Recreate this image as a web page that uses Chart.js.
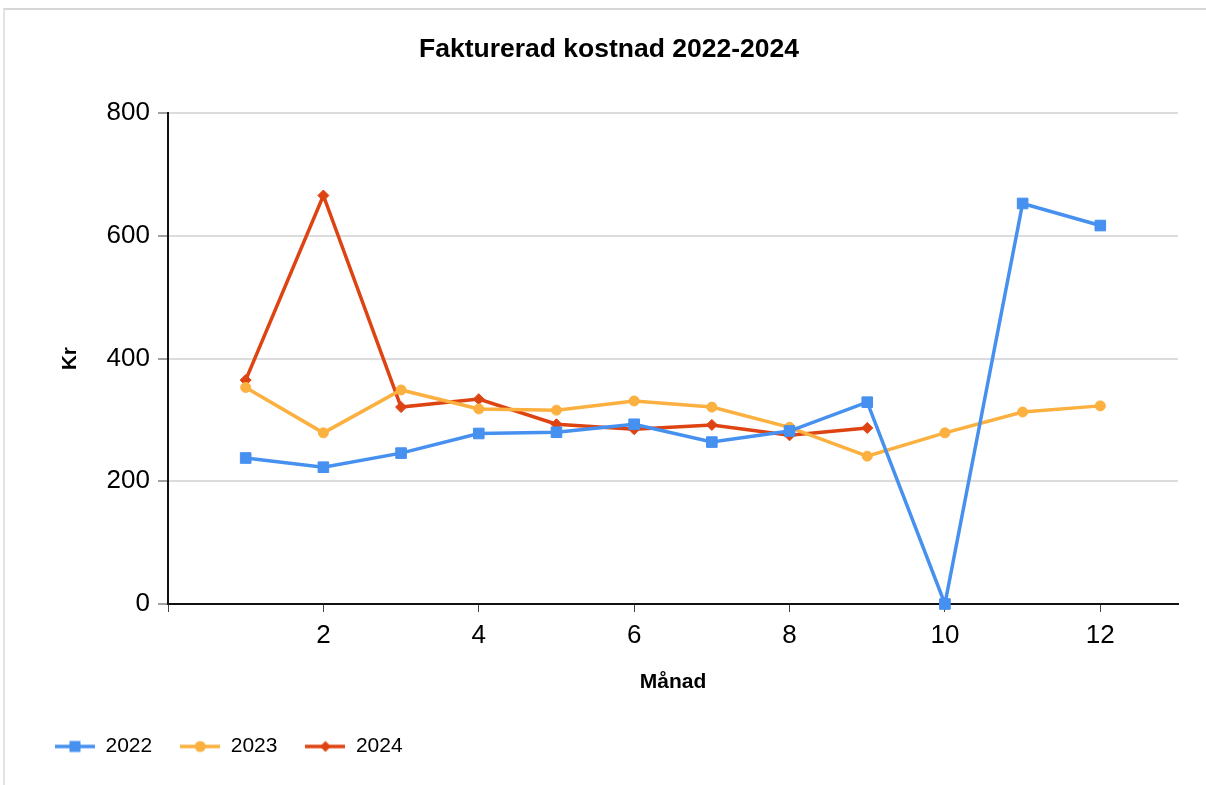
<!DOCTYPE html>
<html>
<head>
<meta charset="utf-8">
<script src="https://cdn.jsdelivr.net/npm/chart.js@4.4.1/dist/chart.umd.min.js"></script>
<style>
  html, body { margin: 0; padding: 0; background: #fff; }
  #frame { position: absolute; left: 3px; top: 8px; width: 1210px; height: 800px;
           border-top: 2px solid #d6d6d6; border-left: 2px solid #e2e2e2; }
  #wrap { position: absolute; left: 0; top: 0; width: 1206px; height: 785px; }
</style>
</head>
<body>
<div id="frame"></div>
<div id="wrap"><canvas id="c" width="1206" height="785"></canvas></div>
<script>
const chartTitle = 'Fakturerad kostnad 2022-2024';
const xTitle = 'Månad';
const yTitle = 'Kr';
const months = [1, 2, 3, 4, 5, 6, 7, 8, 9, 10, 11, 12];
const seriesNames = ['2022', '2023', '2024'];
const values2022 = [238, 223, 246, 278, 280, 293, 264, 282, 329, 0, 653, 617];
const values2023 = [353, 279, 349, 318, 316, 331, 321, 288, 241, 279, 313, 323];
const values2024 = [365, 666, 321, 334, 293, 285, 292, 275, 287];
const xTicks = [0, 2, 4, 6, 8, 10, 12];
const yTicks = [0, 200, 400, 600, 800];

const colors = ['#4690f0', '#fbb03f', '#de4312'];
const styles = ['rect', 'circle', 'rectRot'];
const radii = [7.5, 5, 5.5];

function legendIcon(color, style) {
  const cv = document.createElement('canvas');
  cv.width = 40; cv.height = 16;
  const g = cv.getContext('2d');
  g.strokeStyle = color; g.lineWidth = 3.5;
  g.beginPath(); g.moveTo(0, 8); g.lineTo(40, 8); g.stroke();
  g.fillStyle = color;
  if (style === 'rect') { g.fillRect(14.5, 2.5, 11, 11); }
  else if (style === 'circle') { g.beginPath(); g.arc(20, 8, 5.5, 0, Math.PI * 2); g.fill(); }
  else { g.beginPath(); g.moveTo(20, 2.5); g.lineTo(25.5, 8); g.lineTo(20, 13.5); g.lineTo(14.5, 8); g.closePath(); g.fill(); }
  return cv;
}

function pts(vals) { return vals.map((v, i) => ({ x: months[i], y: v })); }
const allVals = [values2022, values2023, values2024];

const datasets = seriesNames.map((name, i) => ({
  label: name,
  data: pts(allVals[i]),
  borderColor: colors[i],
  backgroundColor: colors[i],
  borderWidth: 3.5,
  pointStyle: styles[i],
  pointRadius: radii[i],
  pointHoverRadius: radii[i],
  pointBorderWidth: 1,
  pointBorderColor: colors[i],
  pointBackgroundColor: colors[i],
  tension: 0,
  clip: false,
  legendIcon: legendIcon(colors[i], styles[i])
}));

const FONT = "'Liberation Sans', Arial, sans-serif";
Chart.defaults.font.family = FONT;
Chart.defaults.color = '#000';

const legendShift = {
  id: 'legendShift',
  afterLayout(chart) {
    if (chart.legend) { chart.legend.left -= 13; chart.legend.right -= 13; chart.legend.top += 1; chart.legend.bottom += 1; }
  }
};

new Chart(document.getElementById('c'), {
  type: 'line',
  data: { datasets },
  plugins: [legendShift],
  options: {
    responsive: false,
    animation: false,
    layout: { padding: { left: 40, right: 28, top: 0, bottom: 19 } },
    plugins: {
      title: {
        display: true, text: chartTitle,
        font: { size: 26.5, weight: 'bold', family: FONT }, color: '#000',
        padding: { top: 34, bottom: 47.5 }
      },
      legend: {
        position: 'bottom', align: 'start',
        labels: {
          font: { size: 21, family: FONT }, color: '#000',
          usePointStyle: true, pointStyleWidth: 40, boxWidth: 40, padding: 28,
          generateLabels(chart) {
            return chart.data.datasets.map((d, i) => ({
              text: d.label, pointStyle: d.legendIcon, datasetIndex: i,
              fillStyle: d.borderColor, strokeStyle: d.borderColor, lineWidth: 0, hidden: false
            }));
          }
        }
      },
      tooltip: { enabled: false }
    },
    scales: {
      x: {
        type: 'linear', min: 0, max: 13,
        afterBuildTicks(scale) { scale.ticks = xTicks.map(v => ({ value: v })); },
        afterFit(scale) { scale.height = 103; },
        ticks: { font: { size: 26, family: FONT }, color: '#000', padding: 8,
                 callback: v => (v === 0 ? '' : String(v)), maxRotation: 0, autoSkip: false },
        grid: { drawOnChartArea: false, drawTicks: true, tickLength: 8, tickColor: '#444', tickWidth: 1 },
        border: { display: true, color: '#111', width: 2 },
        title: { display: true, text: xTitle, font: { size: 21, weight: 'bold', family: FONT },
                 color: '#000', padding: { top: 0, bottom: 12.4 } }
      },
      y: {
        min: 0, max: 800,
        afterBuildTicks(scale) { scale.ticks = yTicks.map(v => ({ value: v })); },
        afterFit(scale) { scale.width = 128; },
        ticks: { font: { size: 26, family: FONT }, color: '#000', padding: 8 },
        grid: { color: '#dcdcdc', lineWidth: 2, tickLength: 10, tickColor: '#444', tickWidth: 1 },
        border: { display: true, color: '#111', width: 2 },
        title: { display: true, text: yTitle, font: { size: 21, weight: 'bold', family: FONT },
                 color: '#000', padding: { top: 17.4, bottom: 0 } }
      }
    }
  }
});
</script>
</body>
</html>
